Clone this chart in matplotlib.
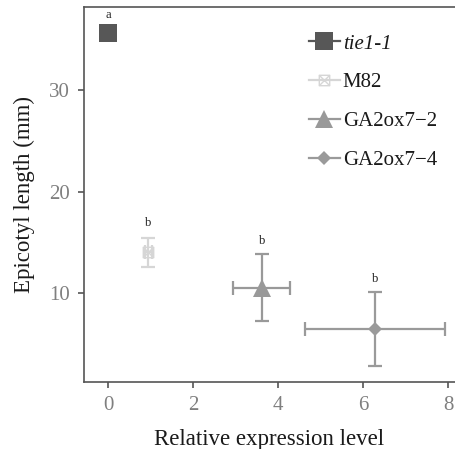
import matplotlib
matplotlib.use("Agg")
import matplotlib.pyplot as plt
from matplotlib.path import Path
from matplotlib.lines import Line2D

plt.rcParams['font.family'] = ['Liberation Serif', 'DejaVu Serif']

# Data
genotypes = ["tie1-1", "M82", "GA2ox7\u22122", "GA2ox7\u22124"]
expr = [0.0, 0.95, 3.62, 6.28]
expr_err = [0.0, 0.08, 0.67, 1.65]
epicotyl = [35.6, 14.0, 10.5, 6.45]
epicotyl_err = [0.3, 1.4, 3.3, 3.65]
letters = ["a", "b", "b", "b"]
letter_y = [37.4, 16.9, 15.1, 11.4]

xticks = [0, 2, 4, 6, 8]
yticks = [10, 20, 30]

colors = ["#575757", "#d6d6d6", "#999999", "#9a9a9a"]

# square with a cross inside (open marker)
sq_cross = Path(
    [(-1, -1), (1, -1), (1, 1), (-1, 1), (-1, -1),
     (-1, -1), (1, 1), (-1, 1), (1, -1)],
    [Path.MOVETO, Path.LINETO, Path.LINETO, Path.LINETO, Path.CLOSEPOLY,
     Path.MOVETO, Path.LINETO, Path.MOVETO, Path.LINETO])

styles = [
    dict(marker="s", ms=12.5, mfc=colors[0], mec=colors[0], mew=0),
    dict(marker=sq_cross, ms=7.5, mfc="none", mec=colors[1], mew=1.0),
    dict(marker="^", ms=13, mfc=colors[2], mec=colors[2], mew=0),
    dict(marker="D", ms=7.5, mfc=colors[3], mec=colors[3], mew=0),
]
capsizes = [6, 5, 5, 5]

fig = plt.figure(figsize=(4.55, 4.49), dpi=100)
ax = fig.add_axes([84 / 455, 1 - 382 / 449, 1 - 84 / 455, (382 - 7) / 449])

handles = []
for i in range(len(genotypes)):
    st = styles[i]
    ax.errorbar(expr[i], epicotyl[i], xerr=expr_err[i] if expr_err[i] > 0 else None,
                yerr=epicotyl_err[i], fmt="none", ecolor=colors[i],
                elinewidth=1.6, capsize=capsizes[i], capthick=1.6, zorder=2)
    ax.plot(expr[i], epicotyl[i], linestyle="none", zorder=3, **st)
    ax.text(expr[i], letter_y[i], letters[i], ha="center", va="center",
            fontsize=9, color="#222222")
    handles.append(Line2D([], [], color=colors[i], lw=1.6, **st))

ax.set_xlim(-0.565, 8.165)
ax.set_ylim(1.23, 38.18)
ax.set_xticks(xticks)
ax.set_yticks(yticks)

for side in ["left", "top", "bottom"]:
    ax.spines[side].set_color("#555555")
    ax.spines[side].set_linewidth(1.2)
ax.spines["right"].set_visible(False)

ax.tick_params(direction="out", length=4, width=1.2, color="#555555",
               labelsize=15, labelcolor="#7f7f7f", pad=6)

ax.set_xlabel("Relative expression level", fontsize=16.5, color="#1a1a1a", labelpad=10)
ax.set_ylabel("Epicotyl length (mm)", fontsize=16.5, color="#1a1a1a", labelpad=10)

leg = ax.legend(handles, genotypes, loc="upper left", bbox_to_anchor=(0.585, 0.95),
                frameon=False, fontsize=15, handlelength=1.45, handletextpad=0.15,
                labelspacing=0.92, borderaxespad=0)
leg.get_texts()[0].set_style("italic")
for t in leg.get_texts():
    t.set_color("#1a1a1a")

fig.savefig("out.png", dpi=100)
